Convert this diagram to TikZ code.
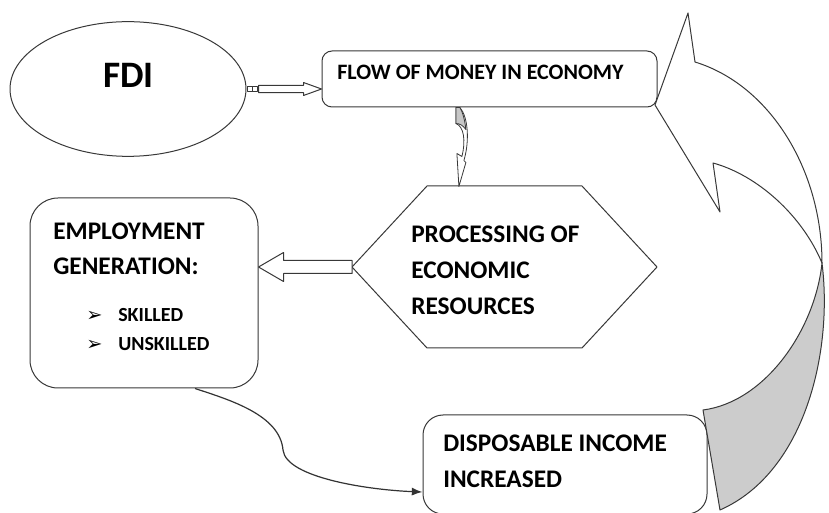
\documentclass[tikz,border=0pt]{standalone}
\usepackage{fontspec}
\setmainfont{Carlito}
\newfontfamily\dingfont{DejaVu Sans}
\usetikzlibrary{shapes.geometric, arrows.meta, calc}
\begin{document}
\begin{tikzpicture}[x=0.75pt, y=-0.75pt, line join=round,
  outline/.style={draw=black!78, line width=0.75pt},
  roundbox/.style={outline, fill=white, rounded corners=#1, inner sep=0pt},
  txt/.style={anchor=base west, inner sep=0pt, font=\bfseries\fontsize{19}{22}\selectfont},
  smalltxt/.style={anchor=base west, inner sep=0pt, font=\bfseries\fontsize{15}{18}\selectfont},
  bullet/.style={anchor=base west, inner sep=0pt, font=\dingfont\fontsize{14.5}{16}\selectfont}]
\useasboundingbox (0,0) rectangle (829,513);

% --- FDI ellipse
\node[ellipse, outline, minimum width=177pt, minimum height=101pt, inner sep=0pt] (fdi) at (128,89) {};
\node[anchor=base, inner sep=0pt, font=\bfseries\fontsize{28}{32}\selectfont] (fdilabel) at (128.5,88) {FDI};

% --- boxes
\node[roundbox=7.5pt, minimum width=251.25pt, minimum height=42pt] (flow) at (489.5,79) {};
\node[txt, font=\bfseries\fontsize{16.5}{20}\selectfont] (flowlabel) at (337,80) {FLOW OF MONEY IN ECONOMY};

\node[roundbox=21pt, minimum width=171pt, minimum height=142.5pt] (emp) at (144,293) {};
\node[txt] (emp1) at (53,240) {EMPLOYMENT};
\node[txt] (emp2) at (53,275) {GENERATION:};
\node[bullet] (b1) at (86,322) {➢};
\node[bullet] (b2) at (86,351) {➢};
\node[smalltxt] (emp3) at (118,322) {SKILLED};
\node[smalltxt] (emp4) at (118,351) {UNSKILLED};

\node[roundbox=15pt, minimum width=213pt, minimum height=74.25pt] (disp) at (565,464.5) {};
\node[txt] (disp1) at (443,452) {DISPOSABLE INCOME};
\node[txt] (disp2) at (443,488) {INCREASED};

% --- hexagon
\path (352,267) coordinate (procW) (427,186) coordinate (procNW) (582,186) coordinate (procNE)
      (657,267) coordinate (procE) (582,348) coordinate (procSE) (427,348) coordinate (procSW);
\draw[outline, fill=white] (procW) -- (procNW) -- (procNE) -- (procE) -- (procSE) -- (procSW) -- cycle;
\node[txt] (proc1) at (411,243) {PROCESSING OF};
\node[txt] (proc2) at (411,279) {ECONOMIC};
\node[txt] (proc3) at (411,315) {RESOURCES};

% --- striped hollow arrow: FDI -> flow of money
\coordinate (a0) at (fdi.east);
\coordinate (a1) at (flow.west |- fdi.east);
\draw[outline, line width=0.6pt] ($(a0)+(1,-2.8)$) rectangle ($(a0)+(5.5,2.8)$);
\draw[outline, line width=0.6pt] ($(a0)+(6,-2.8)$) rectangle ($(a0)+(10.5,2.8)$);
\draw[outline, fill=white] ($(a0)+(12,-3.7)$) -- ($(a1)+(-18,-3.7)$) -- ($(a1)+(-18,-6.5)$) -- (a1)
  -- ($(a1)+(-18,6.5)$) -- ($(a1)+(-18,3.7)$) -- ($(a0)+(12,3.7)$) -- cycle;

% --- block arrow: processing -> employment
\coordinate (c1) at (emp.east |- procW);
\draw[outline, fill=white] (procW) ++(0,-6.5) -- ($(c1)+(25,-6.5)$) -- ($(c1)+(25,-14.5)$) -- (c1)
  -- ($(c1)+(25,14.5)$) -- ($(c1)+(25,6.5)$) -- ($(procW)+(0,6.5)$) -- cycle;

% --- small twisted arrow: flow of money -> processing
\coordinate (s0) at ($(flow.south west)!0.4!(flow.south east)$);
\begin{scope}[shift={(s0)}]
  \draw[outline, line width=0.6pt, fill=white] (0,0) -- (0,16) .. controls (8,19) and (10,33) .. (6,49)
    -- (1,46) -- (3,79) -- (10,55) -- (8,53) .. controls (14,33) and (12,9) .. (4,0) -- cycle;
  \draw[outline, line width=0.6pt, fill=black!22] (0,0) -- (4,0) .. controls (7,5) and (9,13) .. (10,22)
    .. controls (7,18) and (4,16) .. (0,16) -- cycle;
\end{scope}

% --- S-shaped connector: employment -> disposable income
\coordinate (e0) at ($(emp.south)+(51,0)$);
\coordinate (e1) at (disp.west |- 0,492);
\draw[black!80, line width=0.9pt, -{Latex[length=8pt, width=6pt]}]
  (e0) .. controls (230,400) and (280,415) .. (283,450) .. controls (286,478) and (370,490) .. (e1);

% --- large curved return arrow: disposable income -> flow of money
\draw[outline, fill=white] (688,13) -- (655,105) -- (720,212) -- (713,163)
  .. controls (757,175) and (802,215) .. (822,263)
  .. controls (822,170) and (770,85) .. (695,62) -- cycle;
\draw[outline, fill=black!20] (822,263) .. controls (833,350) and (806,472) .. (720,510)
  -- (703,410) .. controls (765,402) and (815,330) .. (822,263) -- cycle;
\end{tikzpicture}
\end{document}
